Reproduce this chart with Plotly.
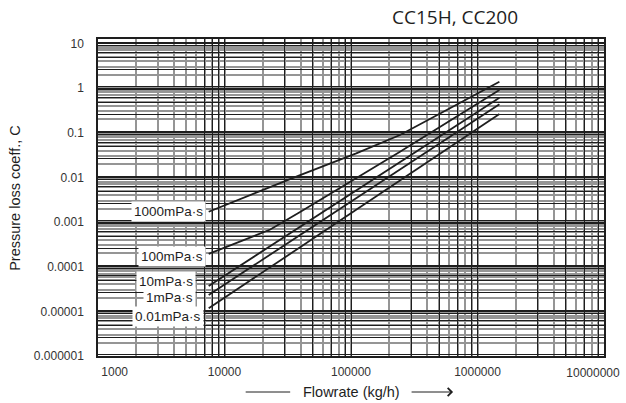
import numpy as np
import plotly.graph_objects as go

# ---- data ----
flow_1000 = [7500, 13300, 39600, 110000, 244000, 1490000]
c_1000 = [0.0017, 0.0033, 0.0113, 0.0345, 0.089, 1.39]

flow_100 = [7500, 13300, 23000, 39600, 244000, 1490000]
c_100 = [0.000193, 0.000363, 0.00068, 0.00168, 0.0377, 0.908]

flow_10 = [7500, 1490000]
c_10 = [3.7e-5, 0.61]

flow_1 = [7500, 1490000]
c_1 = [2.33e-5, 0.434]

flow_001 = [7500, 1490000]
c_001 = [1.17e-5, 0.263]

series_names = ["1000mPa·s", "100mPa·s", "10mPa·s", "1mPa·s", "0.01mPa·s"]
series_flow = [flow_1000, flow_100, flow_10, flow_1, flow_001]
series_c = [c_1000, c_100, c_10, c_1, c_001]
label_yshift = [0, -3, 4, -3, -8]
label_xshift = [-3, -3, -13, -13, -5]

FSP = "\u2007"  # figure space, used to nudge the first tick label inward
x_tickvals = [1000, 10000, 100000, 1000000, 10000000]
x_ticktext = [FSP * 5 + "1000", "10000", "100000", "1000000", "10000000"]
y_tickvals = [1e-6, 1e-5, 1e-4, 1e-3, 1e-2, 1e-1, 1, 10]
y_ticktext = ["0.000001", "0.00001", "0.0001", "0.001", "0.01", "0.1", "1", "10"]

# darker grid lines of the (scanned) log paper
x_dark = [7000, 8000, 9000, 30000, 50000, 70000, 90000,
          300000, 500000, 700000, 900000, 3e6, 5e6, 7e6, 9e6]
y_dark_mult = [1.07, 2.6, 4.8, 6.2, 9.1]
y_decades = [1e-6, 1e-5, 1e-4, 1e-3, 1e-2, 1e-1, 1, 10]
y_dark = [d * m for d in y_decades for m in y_dark_mult]

title_text = "CC15H, CC200"
x_title = "Flowrate (kg/h)"
y_title = "Pressure loss coeff., C"

FONT = "Liberation Sans, Arial, sans-serif"
INK = "#1e1e1e"
GRAY = "#959595"

fig = go.Figure()
for name, fx, cy in zip(series_names, series_flow, series_c):
    fig.add_trace(go.Scatter(x=fx, y=cy, mode="lines", name=name,
                             line=dict(color=INK, width=1.8),
                             showlegend=False, hoverinfo="skip"))
# empty traces to carry the overlay axes
fig.add_trace(go.Scatter(x=[], y=[], xaxis="x2", yaxis="y2",
                         showlegend=False, hoverinfo="skip"))
fig.add_trace(go.Scatter(x=[], y=[], xaxis="x3", yaxis="y",
                         showlegend=False, hoverinfo="skip"))

for name, fx, cy, ys, xs in zip(series_names, series_flow, series_c,
                                label_yshift, label_xshift):
    fig.add_annotation(x=np.log10(fx[0]), y=np.log10(cy[0]), xref="x", yref="y",
                       text=name, showarrow=False, xanchor="right",
                       yanchor="middle", xshift=xs, yshift=ys,
                       bgcolor="white", borderpad=2,
                       font=dict(family=FONT, size=13.5, color=INK))

fig.add_annotation(x=0.5, y=0, xref="paper", yref="paper", yshift=-36,
                   xanchor="center", yanchor="middle",
                   text=x_title, showarrow=False,
                   font=dict(family=FONT, size=14.5, color=INK))
fig.add_annotation(x=(290 - 97.7) / 506.3, y=0, xref="paper", yref="paper",
                   yshift=-36, text="", showarrow=True, ax=-46, ay=0,
                   arrowhead=0, arrowwidth=1, arrowcolor=INK)
fig.add_annotation(x=(453 - 97.7) / 506.3, y=0, xref="paper", yref="paper",
                   yshift=-36, text="", showarrow=True, ax=-43, ay=0,
                   arrowhead=4, arrowsize=1.6, arrowwidth=1, arrowcolor=INK)
fig.add_annotation(x=(14 - 97.7) / 506.3, y=0.5, xref="paper", yref="paper",
                   xanchor="center", yanchor="middle",
                   text=y_title, showarrow=False, textangle=-90,
                   font=dict(family=FONT, size=14.5, color=INK))

tickfont = dict(family=FONT, size=12, color="#333")
axis_common = dict(type="log", showline=True, linecolor=INK, linewidth=1.5,
                   mirror=True, ticks="", zeroline=False, automargin=False,
                   ticklabeloverflow="allow", tickfont=tickfont)

fig.update_layout(
    width=626, height=403,
    margin=dict(l=98, r=22, t=39, b=47, autoexpand=False),
    plot_bgcolor="white", paper_bgcolor="white",
    showlegend=False,
    title=dict(text=title_text, x=455 / 626, xref="container", xanchor="center",
               y=1 - 17 / 403, yref="container", yanchor="middle",
               font=dict(family="Open Sans, sans-serif", size=19, color=INK)),
    xaxis=dict(range=[3, 7], tickmode="array", tickvals=x_tickvals[:4],
               ticktext=x_ticktext[:4], showgrid=True, gridcolor=INK, gridwidth=1,
               ticklabelstandoff=4,
               minor=dict(dtick="D1", showgrid=True, gridcolor=GRAY, gridwidth=1.5),
               **axis_common),
    xaxis3=dict(type="log", range=[3, 7], overlaying="x", anchor="y",
                side="bottom", tickmode="array", tickvals=x_tickvals[4:],
                ticktext=x_ticktext[4:], showgrid=False, showline=False,
                zeroline=False, ticks="", automargin=False,
                ticklabelstandoff=8, ticklabelshift=-11, tickfont=tickfont),
    yaxis=dict(range=[-6, 1.1], tickmode="array", tickvals=y_tickvals,
               ticktext=y_ticktext, showgrid=True, gridcolor=INK, gridwidth=1,
               ticklabelstandoff=10,
               minor=dict(dtick="D1", showgrid=True, gridcolor=GRAY, gridwidth=1.5),
               **axis_common),
    xaxis2=dict(type="log", range=[3, 7], overlaying="x", anchor="y2",
                tickmode="array", tickvals=x_dark, showticklabels=False,
                showgrid=True, gridcolor=INK, gridwidth=1, showline=False,
                zeroline=False, ticks="", automargin=False),
    yaxis2=dict(type="log", range=[-6, 1.1], overlaying="y", anchor="x2",
                tickmode="array", tickvals=y_dark, showticklabels=False,
                showgrid=True, gridcolor=INK, gridwidth=1,
                showline=False, zeroline=False, ticks="", automargin=False),
)

fig.write_html("out.html", config={"displayModeBar": False},
               post_script="document.body.style.margin='0';document.body.style.overflow='hidden';")
